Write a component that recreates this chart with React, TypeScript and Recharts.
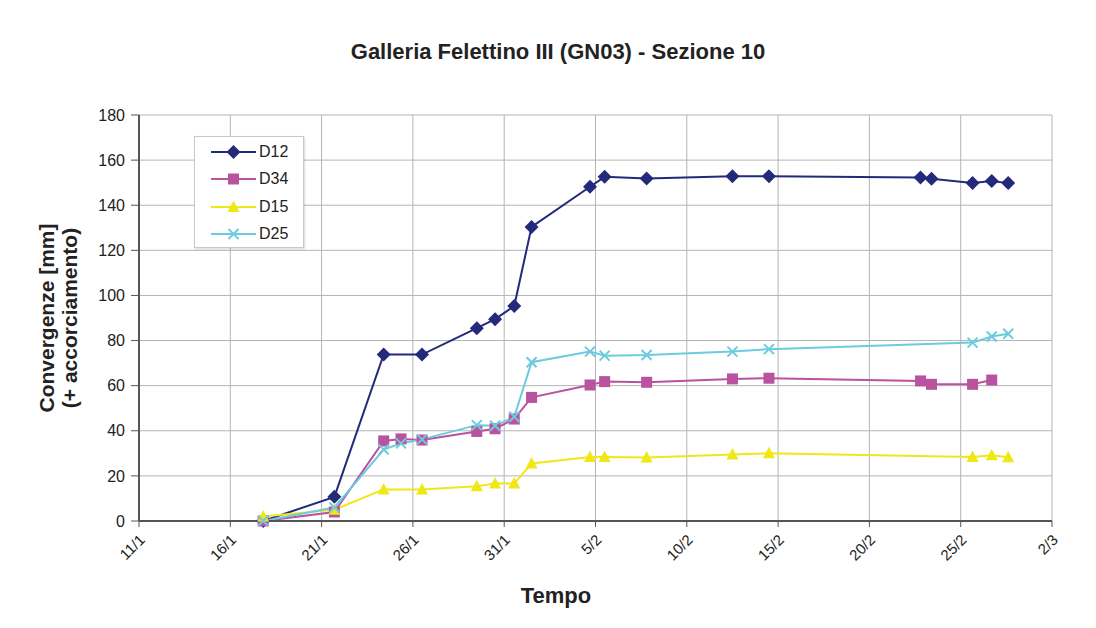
import React from "react";
import { LineChart, Line, XAxis, YAxis, CartesianGrid } from "recharts";

// giorni dal 11/1
const DAYS = [6.8, 10.7, 13.4, 14.35, 15.5, 18.5, 19.5, 20.55, 21.5, 24.7, 25.5, 27.8, 32.5, 34.5, 42.8, 43.4, 45.65, 46.7, 47.6];
const D12 = [0, 10.7, 73.8, null, 73.8, 85.5, 89.5, 95.3, 130.4, 148.2, 152.6, 151.9, 152.8, 152.9, 152.3, 151.7, 149.8, 150.7, 149.8];
const D34 = [0, 4, 35.5, 36.4, 35.9, 39.7, 40.9, 45.2, 54.8, 60.3, 61.8, 61.5, 63.0, 63.3, 62.1, 60.6, 60.6, 62.5, null];
const D15 = [2, 5, 14.0, null, 14.0, 15.4, 16.6, 16.6, 25.5, 28.4, 28.4, 28.2, 29.5, 30.0, null, null, 28.4, 29.1, 28.3];
const D25 = [0, 6, 31.7, 34.4, 36.2, 42.5, 42.2, 46.2, 70.4, 75.1, 73.3, 73.6, 75.1, 76.2, null, null, 79.1, 81.8, 83.0];

const X_TICKS = [0, 5, 10, 15, 20, 25, 30, 35, 40, 45, 50];
const X_LABELS = ["11/1", "16/1", "21/1", "26/1", "31/1", "5/2", "10/2", "15/2", "20/2", "25/2", "2/3"];
const Y_TICKS = [0, 20, 40, 60, 80, 100, 120, 140, 160, 180];

const SERIES = [
  { key: "D12", color: "#232a7a", shape: "diamond" },
  { key: "D34", color: "#b9529f", shape: "square" },
  { key: "D15", color: "#efe815", shape: "triangle" },
  { key: "D25", color: "#6ccbdd", shape: "cross" },
];

const data = DAYS.map((d, i) => ({ day: d, D12: D12[i], D34: D34[i], D15: D15[i], D25: D25[i] }));

const FONT = "Arial, 'Liberation Sans', Helvetica, sans-serif";

function Marker({ shape, color, x, y }: { shape: string; color: string; x: number; y: number }) {
  if (shape === "diamond") {
    return <path d={`M${x},${y - 7}L${x + 7},${y}L${x},${y + 7}L${x - 7},${y}Z`} fill={color} />;
  }
  if (shape === "square") {
    return <rect x={x - 5.5} y={y - 5.5} width={11} height={11} fill={color} />;
  }
  if (shape === "triangle") {
    return <path d={`M${x},${y - 6.5}L${x + 6},${y + 5}L${x - 6},${y + 5}Z`} fill={color} />;
  }
  return (
    <g stroke={color} strokeWidth={2}>
      <line x1={x - 5} y1={y - 5} x2={x + 5} y2={y + 5} />
      <line x1={x - 5} y1={y + 5} x2={x + 5} y2={y - 5} />
    </g>
  );
}

const makeDot = (shape: string, color: string) => (p: any) => {
  if (p.cx == null || p.cy == null || p.value == null) return <g key={`e-${shape}-${p.index}`} />;
  return (
    <g key={`${shape}-${p.index}`}>
      <Marker shape={shape} color={color} x={p.cx} y={p.cy} />
    </g>
  );
};

const XTick = (props: any) => {
  const { x, y, payload } = props;
  const idx = X_TICKS.indexOf(payload.value);
  return (
    <text
      x={x + 4}
      y={y + 9}
      transform={`rotate(-45 ${x + 4} ${y + 9})`}
      textAnchor="end"
      dominantBaseline="middle"
      fontSize={15}
      fontFamily={FONT}
      fill="#222"
    >
      {X_LABELS[idx]}
    </text>
  );
};

const LegendBox = () => (
  <div
    style={{
      position: "absolute",
      left: 194,
      top: 136,
      width: 110,
      height: 112,
      background: "#fff",
      border: "1px solid #c8c8c8",
      boxShadow: "1px 1px 2px rgba(0,0,0,0.15)",
      boxSizing: "border-box",
      paddingTop: 1,
    }}
  >
    {SERIES.map((s) => (
      <div key={s.key} style={{ display: "flex", alignItems: "center", height: 27.5 }}>
        <svg width={62} height={16} style={{ marginLeft: 14 }}>
          <line x1={2} y1={8} x2={47} y2={8} stroke={s.color} strokeWidth={2} />
          <Marker shape={s.shape} color={s.color} x={24.5} y={8} />
        </svg>
        <span style={{ fontFamily: FONT, fontSize: 16, color: "#222", marginLeft: -12 }}>{s.key}</span>
      </div>
    ))}
  </div>
);

export default function App() {
  return (
    <div style={{ position: "absolute", left: 0, top: 0, width: 1096, height: 628, background: "#fff", fontFamily: FONT }}>
      <div
        style={{
          position: "absolute",
          left: 558,
          top: 52,
          transform: "translate(-50%, -50%)",
          whiteSpace: "nowrap",
          fontSize: 22,
          fontWeight: "bold",
          color: "#222",
        }}
      >
        Galleria Felettino III (GN03) - Sezione 10
      </div>
      <div
        style={{
          position: "absolute",
          left: 58,
          top: 318,
          transform: "translate(-50%, -50%) rotate(-90deg)",
          whiteSpace: "nowrap",
          textAlign: "center",
          fontSize: 21,
          fontWeight: "bold",
          lineHeight: "23px",
          color: "#222",
        }}
      >
        Convergenze [mm]
        <br />
        (+ accorciamento)
      </div>
      <div
        style={{
          position: "absolute",
          left: 556,
          top: 596,
          transform: "translate(-50%, -50%)",
          fontSize: 22,
          fontWeight: "bold",
          color: "#222",
        }}
      >
        Tempo
      </div>
      <LineChart
        width={1096}
        height={628}
        data={data}
        margin={{ top: 115, right: 44, bottom: 47, left: 80 }}
        style={{ position: "absolute", left: 0, top: 0 }}
      >
        <CartesianGrid stroke="#b4b4b4" strokeWidth={1} />
        <XAxis
          dataKey="day"
          type="number"
          domain={[0, 50]}
          ticks={X_TICKS}
          interval={0}
          height={60}
          tick={<XTick />}
          tickSize={6}
          tickLine={{ stroke: "#555" }}
          axisLine={{ stroke: "#555", strokeWidth: 2 }}
        />
        <YAxis
          type="number"
          domain={[0, 180]}
          ticks={Y_TICKS}
          interval={0}
          width={59}
          tickSize={8}
          tickMargin={6}
          tickLine={{ stroke: "#555" }}
          axisLine={{ stroke: "#555", strokeWidth: 2 }}
          tick={{ fontSize: 16, fill: "#222", fontFamily: FONT }}
        />
        {SERIES.map((s) => (
          <Line
            key={s.key}
            type="linear"
            dataKey={s.key}
            stroke={s.color}
            strokeWidth={2}
            dot={makeDot(s.shape, s.color)}
            activeDot={false}
            connectNulls
            isAnimationActive={false}
          />
        ))}
      </LineChart>
      <LegendBox />
    </div>
  );
}
